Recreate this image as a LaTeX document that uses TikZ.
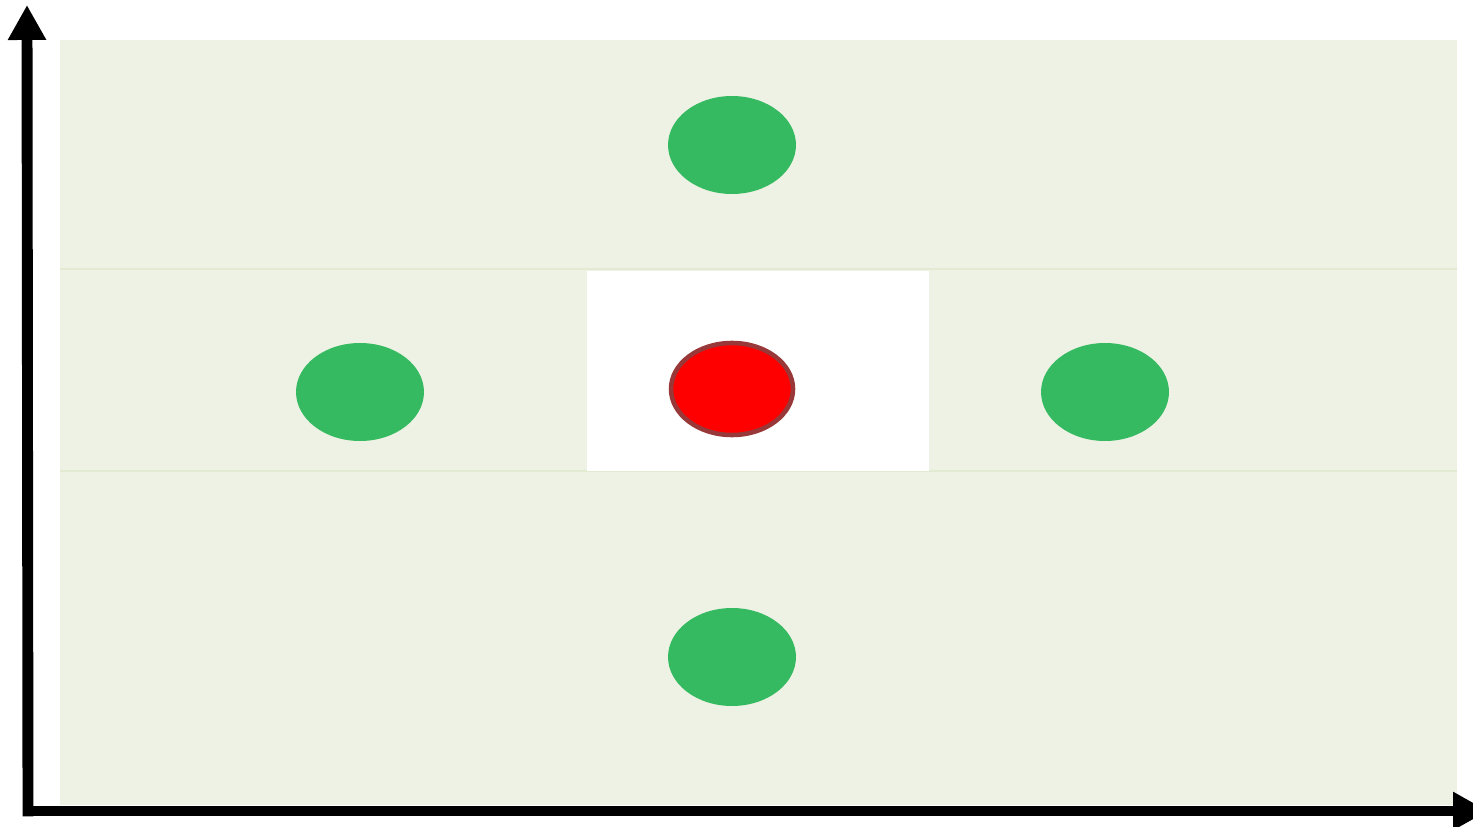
\documentclass[tikz,border=0pt]{standalone}
\definecolor{PLOTbg}{HTML}{EEF2E4}
\definecolor{PLOTline}{HTML}{E2EAD2}
\definecolor{PTgreen}{HTML}{35BA62}
\definecolor{PTred}{HTML}{FF0000}
\definecolor{PTborder}{HTML}{993838}
\usetikzlibrary{shapes.geometric, arrows.meta, positioning}
\begin{document}
\begin{tikzpicture}[x=0.02cm, y=-0.02cm,
      pt/.style={ellipse, fill=PTgreen, draw=none, minimum width=2.56cm, minimum height=1.96cm, inner sep=0pt},
      ptc/.style={ellipse, fill=PTred, draw=PTborder, line width=2.6pt, minimum width=2.44cm, minimum height=1.84cm, inner sep=0pt},
      axis/.style={line width=6.2pt, -{Triangle[length=0.7cm, width=0.72cm]}}]
      \useasboundingbox (0,0) rectangle (1473,827);
      % Background bands
      \fill[PLOTbg] (60,40) rectangle (1457,805);
      \draw[PLOTline, line width=1.5pt] (60,269) -- (1457,269);
      \draw[PLOTline, line width=0.8pt] (60,471) -- (1457,471);
      \fill[white] (587,271) rectangle (929,471);
      % Points
      \node[pt] (top) at (732,145) {};
      \node[pt] (left) at (360,392) {};
      \node[ptc] (mid) at (732,389) {};
      \node[pt] (right) at (1105,392) {};
      \node[pt] (bot) at (732,657) {};
      % Axes
      \coordinate (o) at (28,811);
      \coordinate (ytip) at (27,5);
      \coordinate (xtip) at (1488,811);
      \draw[axis, line cap=rect] (o) -- (ytip);
      \draw[axis] (o) -- (xtip);
   \end{tikzpicture}
\end{document}
